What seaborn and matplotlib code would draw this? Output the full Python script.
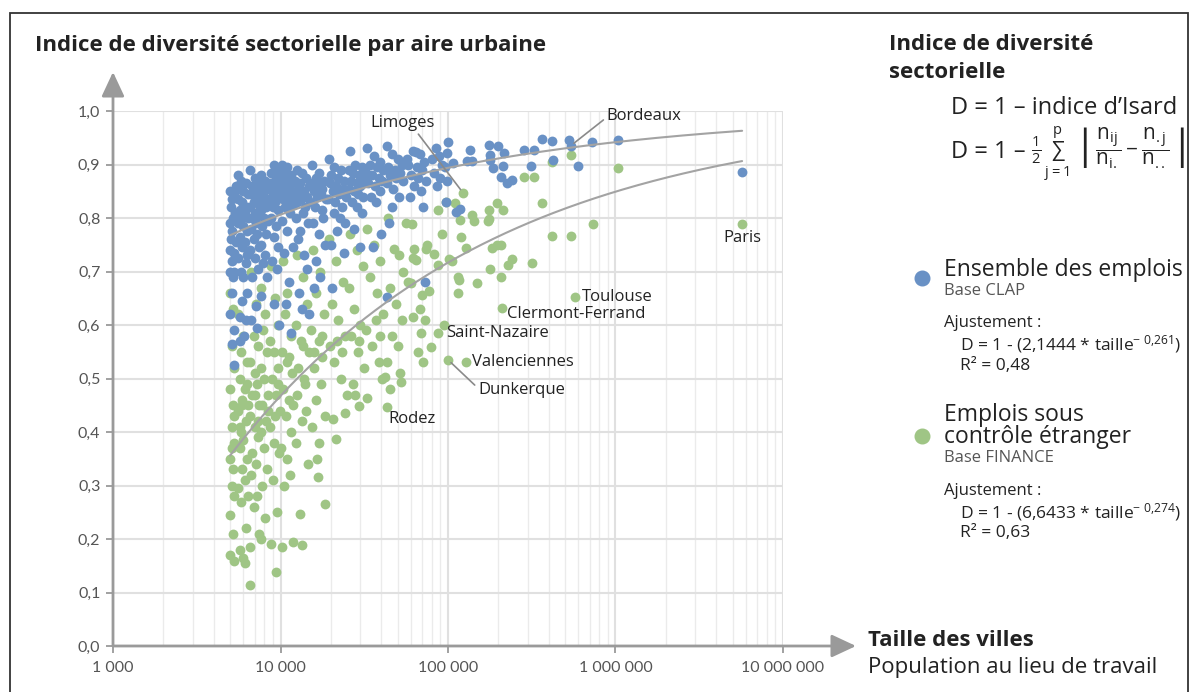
import numpy as np
import pandas as pd
import matplotlib
matplotlib.use("Agg")
import matplotlib.pyplot as plt
import seaborn as sns
from matplotlib.lines import Line2D
from matplotlib.patches import Rectangle
from matplotlib.ticker import FixedLocator, FuncFormatter, NullFormatter

# ---------------------------------------------------------------------------
# Data: (population au lieu de travail, indice de diversité D) par aire urbaine
# ---------------------------------------------------------------------------
ensemble_points = [
    (5000, 0.85), (5100, 0.835), (5050, 0.82), (5200, 0.80), (5000, 0.79), (5300, 0.845),
    (5150, 0.775), (5050, 0.76), (5250, 0.735), (5100, 0.72), (5000, 0.70), (5200, 0.69),
    (5100, 0.66), (5000, 0.62), (5250, 0.59), (5150, 0.565), (5300, 0.525), (5400, 0.86),
    (5350, 0.81), (5400, 0.755), (5300, 0.70), (5000, 0.74),
    (5600, 0.88), (5800, 0.87), (6200, 0.865), (5700, 0.855), (6000, 0.85), (6400, 0.845),
    (5600, 0.835), (5900, 0.83), (6300, 0.82), (5700, 0.815), (6100, 0.81), (5800, 0.80),
    (6400, 0.80), (5600, 0.79), (6000, 0.785), (6300, 0.775), (5700, 0.765), (6100, 0.755),
    (5900, 0.745), (6400, 0.735), (5600, 0.725), (6200, 0.715), (5800, 0.70), (6000, 0.69),
    (6300, 0.66), (5900, 0.645), (5700, 0.615), (6200, 0.61), (6050, 0.58), (5750, 0.57),
    (6350, 0.73), (5550, 0.86),
    (6600, 0.89), (7000, 0.875), (7300, 0.865), (6800, 0.86), (7200, 0.85), (6700, 0.845),
    (7100, 0.84), (6900, 0.83), (7400, 0.825), (6600, 0.82), (7000, 0.81), (7300, 0.805),
    (6800, 0.80), (7100, 0.79), (6700, 0.78), (7200, 0.77), (6900, 0.76), (7400, 0.745),
    (6600, 0.74), (7000, 0.725), (7300, 0.705), (6800, 0.69), (7100, 0.635), (6700, 0.61),
    (7200, 0.595), (6900, 0.855),
    (7700, 0.88), (8100, 0.87), (7900, 0.86), (8400, 0.855), (7600, 0.85), (8000, 0.84),
    (8300, 0.835), (7800, 0.83), (8200, 0.82), (7600, 0.815), (8000, 0.80), (8400, 0.795),
    (7800, 0.785), (8200, 0.77), (7700, 0.75), (8100, 0.73), (7900, 0.715), (8300, 0.69),
    (7600, 0.655), (8000, 0.87),
    (9200, 0.90), (9600, 0.89), (8800, 0.885), (9400, 0.875), (9900, 0.87), (8700, 0.865),
    (9100, 0.86), (9700, 0.855), (8900, 0.85), (9500, 0.845), (9800, 0.84), (8600, 0.835),
    (9300, 0.83), (9000, 0.82), (9600, 0.815), (8800, 0.80), (9400, 0.785), (9100, 0.765),
    (9700, 0.745), (8900, 0.72), (9500, 0.705), (9200, 0.64), (9800, 0.60), (9900, 0.885),
    (10200, 0.90), (11000, 0.895), (10600, 0.885), (11500, 0.88), (10300, 0.875), (10900, 0.87),
    (11700, 0.865), (10500, 0.86), (11200, 0.855), (10100, 0.85), (10800, 0.845), (11600, 0.84),
    (10400, 0.835), (11100, 0.83), (10700, 0.82), (11400, 0.81), (10200, 0.795), (11000, 0.775),
    (11800, 0.745), (10500, 0.735), (11300, 0.68), (10800, 0.64), (11600, 0.585), (11900, 0.825),
    (12500, 0.89), (13400, 0.885), (14200, 0.875), (12200, 0.87), (13000, 0.865), (14700, 0.86),
    (12800, 0.855), (13800, 0.85), (12400, 0.845), (14400, 0.84), (13200, 0.835), (12600, 0.83),
    (14000, 0.82), (13600, 0.81), (12300, 0.80), (14600, 0.79), (13100, 0.775), (12700, 0.76),
    (13900, 0.73), (14300, 0.705), (12900, 0.66), (13500, 0.63), (14800, 0.62),
    (15500, 0.90), (17000, 0.885), (16200, 0.875), (18300, 0.87), (15300, 0.865), (16800, 0.86),
    (17800, 0.855), (15800, 0.85), (17400, 0.845), (16500, 0.84), (18600, 0.835), (15100, 0.83),
    (16000, 0.82), (17600, 0.815), (18000, 0.80), (15600, 0.79), (16900, 0.77), (18400, 0.75),
    (16300, 0.72), (17200, 0.69), (15900, 0.67),
    (19500, 0.91), (21000, 0.895), (23000, 0.89), (20000, 0.88), (22000, 0.875), (24000, 0.87),
    (19800, 0.865), (21500, 0.86), (23500, 0.855), (20500, 0.85), (22500, 0.845), (24500, 0.84),
    (19300, 0.835), (21200, 0.83), (23200, 0.82), (20800, 0.81), (22800, 0.80), (24200, 0.79),
    (21800, 0.775), (19900, 0.75), (23800, 0.735), (20300, 0.67),
    (26000, 0.925), (28000, 0.90), (30500, 0.895), (25500, 0.89), (27000, 0.885), (29500, 0.88),
    (31500, 0.875), (26500, 0.87), (28500, 0.865), (30000, 0.86), (25800, 0.855), (27500, 0.85),
    (29000, 0.845), (31000, 0.84), (26800, 0.83), (28800, 0.82), (30800, 0.81), (27300, 0.78),
    (29800, 0.745),
    (33000, 0.93), (36000, 0.915), (39000, 0.905), (34000, 0.90), (37500, 0.895), (41000, 0.89),
    (32500, 0.885), (35000, 0.88), (38500, 0.875), (40500, 0.87), (33500, 0.865), (36500, 0.86),
    (39500, 0.85), (34500, 0.84), (37000, 0.83), (40000, 0.77), (35500, 0.745),
    (43000, 0.935), (46000, 0.92), (50000, 0.91), (53000, 0.90), (44000, 0.895), (48000, 0.89),
    (52000, 0.885), (45000, 0.88), (49000, 0.875), (54000, 0.87), (43500, 0.865), (47000, 0.855),
    (51000, 0.84), (46500, 0.82), (44500, 0.79), (43000, 0.652),
    (57000, 0.91), (62000, 0.925), (64000, 0.923), (68000, 0.92), (72000, 0.905), (58000, 0.90),
    (65000, 0.895), (70000, 0.89), (60000, 0.88), (66000, 0.875), (74000, 0.87), (63000, 0.86),
    (69000, 0.85), (59000, 0.84), (71000, 0.82), (73000, 0.68),
    (85000, 0.931), (88000, 0.916), (98000, 0.921), (80000, 0.91), (92000, 0.90), (96000, 0.895),
    (82000, 0.885), (90000, 0.875), (98000, 0.87), (86000, 0.86), (100000, 0.942), (97000, 0.83),
    (107000, 0.903), (112000, 0.811), (118000, 0.817), (135000, 0.927), (130000, 0.907),
    (140000, 0.907), (175000, 0.936), (177000, 0.918), (179000, 0.909), (185000, 0.893),
    (198000, 0.935), (206000, 0.877), (225000, 0.865), (240000, 0.871), (212000, 0.897),
    (215000, 0.921), (283000, 0.927), (325000, 0.927), (315000, 0.897), (363000, 0.948),
    (418000, 0.944), (425000, 0.908), (530000, 0.946), (540000, 0.935), (595000, 0.897),
    (720000, 0.942), (1030000, 0.946), (5700000, 0.886),
]

etranger_points = [
    (5000, 0.66), (5200, 0.63), (5100, 0.56), (5300, 0.52), (5000, 0.48), (5200, 0.45),
    (5100, 0.41), (5300, 0.38), (5000, 0.35), (5200, 0.33), (5100, 0.30), (5300, 0.28),
    (5000, 0.245), (5200, 0.21), (5000, 0.17), (5300, 0.159), (5250, 0.43), (5150, 0.37),
    (5600, 0.62), (6000, 0.58), (5800, 0.55), (6300, 0.53), (5700, 0.50), (6100, 0.48),
    (5900, 0.46), (6400, 0.45), (5600, 0.44), (6200, 0.42), (5800, 0.40), (6000, 0.385),
    (5700, 0.37), (6300, 0.35), (5900, 0.33), (6100, 0.31), (5600, 0.295), (6400, 0.28),
    (5800, 0.27), (6200, 0.22), (5700, 0.18), (6000, 0.165), (6600, 0.114), (6100, 0.155),
    (5900, 0.45), (6300, 0.49), (5700, 0.41),
    (6700, 0.70), (7100, 0.64), (6900, 0.58), (7300, 0.56), (6600, 0.53), (7000, 0.51),
    (7200, 0.49), (6800, 0.47), (7400, 0.45), (6600, 0.43), (7000, 0.41), (7300, 0.39),
    (6800, 0.36), (7100, 0.34), (6700, 0.32), (7200, 0.28), (6900, 0.26), (7400, 0.21),
    (6600, 0.185), (7000, 0.47), (7300, 0.42),
    (7700, 0.67), (8100, 0.62), (7900, 0.59), (8300, 0.55), (7600, 0.52), (8000, 0.50),
    (8400, 0.47), (7800, 0.45), (8200, 0.42), (7600, 0.40), (8000, 0.37), (8300, 0.33),
    (7800, 0.30), (8100, 0.24), (7700, 0.20), (8400, 0.44),
    (8800, 0.71), (9300, 0.65), (9700, 0.60), (8700, 0.57), (9100, 0.55), (9600, 0.52),
    (8900, 0.50), (9400, 0.47), (9900, 0.44), (8600, 0.41), (9200, 0.38), (9800, 0.36),
    (9000, 0.31), (9500, 0.25), (8800, 0.19), (9400, 0.138), (9300, 0.43), (9700, 0.49),
    (10300, 0.72), (11000, 0.66), (10600, 0.62), (11500, 0.58), (10200, 0.55), (10900, 0.53),
    (11700, 0.51), (10400, 0.48), (11200, 0.46), (10800, 0.43), (11600, 0.40), (10100, 0.37),
    (11000, 0.35), (11400, 0.32), (10500, 0.30), (10200, 0.185), (11800, 0.45), (11300, 0.54),
    (12500, 0.73), (13600, 0.69), (14400, 0.64), (12300, 0.60), (13200, 0.57), (14700, 0.55),
    (12800, 0.52), (13900, 0.50), (12600, 0.47), (14200, 0.44), (13400, 0.42), (12400, 0.38),
    (14600, 0.34), (13100, 0.247), (11900, 0.194), (13400, 0.189), (13700, 0.56), (14100, 0.49),
    (15600, 0.74), (17200, 0.70), (16400, 0.66), (18200, 0.62), (15300, 0.59), (16900, 0.57),
    (17800, 0.54), (15900, 0.52), (17400, 0.49), (16200, 0.46), (18500, 0.43), (15400, 0.41),
    (17000, 0.38), (16600, 0.35), (16700, 0.316), (15800, 0.55), (17600, 0.58),
    (19600, 0.76), (21500, 0.72), (23500, 0.68), (20200, 0.64), (22000, 0.61), (24200, 0.58),
    (19800, 0.56), (21000, 0.53), (23000, 0.50), (24800, 0.47), (20600, 0.424), (24300, 0.435),
    (21500, 0.387), (18500, 0.265), (21800, 0.57), (23300, 0.55),
    (26000, 0.77), (28500, 0.74), (31000, 0.71), (25500, 0.67), (27500, 0.63), (30000, 0.60),
    (26500, 0.58), (29000, 0.55), (31500, 0.52), (27000, 0.49), (29400, 0.449), (28000, 0.47),
    (29500, 0.57),
    (33000, 0.78), (36000, 0.75), (39000, 0.72), (34000, 0.69), (37500, 0.66), (41000, 0.62),
    (32500, 0.59), (35000, 0.56), (38500, 0.53), (40500, 0.50), (32800, 0.464), (37000, 0.61),
    (39500, 0.58),
    (44000, 0.80), (47500, 0.742), (51000, 0.73), (54000, 0.70), (45000, 0.67), (49000, 0.64),
    (53000, 0.61), (46000, 0.58), (50000, 0.56), (43500, 0.53), (51500, 0.51), (52500, 0.493),
    (45000, 0.48), (42000, 0.503), (43000, 0.447),
    (56000, 0.79), (61000, 0.789), (63000, 0.742), (62000, 0.725), (64000, 0.721),
    (60000, 0.679), (62000, 0.615), (70000, 0.656), (58000, 0.68), (66000, 0.55), (71000, 0.53),
    (68000, 0.63), (69000, 0.585), (73000, 0.61), (75000, 0.75), (74000, 0.742),
    (77000, 0.664), (82000, 0.733), (87000, 0.815), (97000, 0.83), (87000, 0.712),
    (79000, 0.559), (87000, 0.585), (100000, 0.535), (101000, 0.723), (92000, 0.77),
    (95000, 0.60),
    (106000, 0.72), (110000, 0.828), (123000, 0.847), (118000, 0.796), (120000, 0.765),
    (128000, 0.744), (115000, 0.69), (116000, 0.684), (115000, 0.66), (150000, 0.678),
    (128000, 0.531), (139000, 0.806), (143000, 0.794), (175000, 0.815), (176000, 0.798),
    (174000, 0.794), (183000, 0.744), (195000, 0.75), (206000, 0.75), (195000, 0.828),
    (213000, 0.815), (178000, 0.705), (206000, 0.69), (240000, 0.723), (228000, 0.712),
    (316000, 0.716), (210000, 0.632), (364000, 0.828), (283000, 0.877), (325000, 0.877),
    (420000, 0.905), (540000, 0.918), (1030000, 0.894), (420000, 0.766), (545000, 0.766),
    (730000, 0.789), (575000, 0.652), (5700000, 0.789),
]

# Labelled cities: name, population, D
city_names = ["Paris", "Toulouse", "Clermont-Ferrand", "Saint-Nazaire",
              "Valenciennes", "Rodez", "Dunkerque", "Limoges", "Bordeaux"]
city_pop = [5700000, 575000, 210000, 87000, 128000, 43000, 100000, 123000, 540000]
city_d = [0.789, 0.652, 0.632, 0.585, 0.531, 0.447, 0.535, 0.847, 0.935]

# Power-law fits  D = 1 - a * taille^(-b)
fit_ensemble = (2.1444, 0.261)
fit_etranger = (6.6433, 0.274)

y_ticks = [0.0, 0.1, 0.2, 0.3, 0.4, 0.5, 0.6, 0.7, 0.8, 0.9, 1.0]
x_ticks = [1e3, 1e4, 1e5, 1e6, 1e7]
x_tick_labels = ["1 000", "10 000", "100 000", "1 000 000", "10 000 000"]

BLUE = "#6991c5"
GREEN = "#9fc585"
CURVE = "#a3a3a3"
TXT = "#222222"

# ---------------------------------------------------------------------------
sns.set_style("white")
plt.rcParams["font.family"] = ["Open Sans", "DejaVu Sans"]
plt.rcParams["mathtext.fontset"] = "custom"
plt.rcParams["mathtext.rm"] = "Open Sans"
plt.rcParams["mathtext.it"] = "Open Sans:italic"
plt.rcParams["mathtext.bf"] = "Open Sans:bold"
plt.rcParams["mathtext.sf"] = "Open Sans"

W, H = 1198, 692
fig = plt.figure(figsize=(W / 100, H / 100), dpi=100)
fig.patch.set_facecolor("white")


def fx(px):
    return px / W


def fy(py):
    return 1 - py / H


ax_left, ax_right, ax_top, ax_bottom = 113, 783, 111, 646
ax = fig.add_axes([fx(ax_left), fy(ax_bottom), (ax_right - ax_left) / W,
                   (ax_bottom - ax_top) / H])

df_e = pd.DataFrame(ensemble_points, columns=["taille", "D"])
df_g = pd.DataFrame(etranger_points, columns=["taille", "D"])

sns.scatterplot(data=df_g, x="taille", y="D", color=GREEN, s=50, linewidth=0,
                ax=ax, zorder=3, legend=False)
sns.scatterplot(data=df_e, x="taille", y="D", color=BLUE, s=50, linewidth=0,
                ax=ax, zorder=4, legend=False)

ax.set_xscale("log")
ax.set_xlim(1e3, 1e7)
ax.set_ylim(0, 1.0)

# fitted curves
xs = np.logspace(np.log10(5000), np.log10(5.7e6), 300)
for a, b in (fit_ensemble, fit_etranger):
    ax.plot(xs, 1 - a * xs ** (-b), color=CURVE, lw=1.5, zorder=5)

# grid
minor = [m * 10 ** e for e in range(3, 7) for m in range(2, 10)]
ax.xaxis.set_major_locator(FixedLocator(x_ticks))
ax.xaxis.set_minor_locator(FixedLocator(minor))
ax.xaxis.set_minor_formatter(NullFormatter())
ax.xaxis.set_major_formatter(FuncFormatter(lambda v, p: x_tick_labels[x_ticks.index(v)]
                                           if v in x_ticks else ""))
ax.yaxis.set_major_locator(FixedLocator(y_ticks))
ax.yaxis.set_major_formatter(FuncFormatter(lambda v, p: f"{v:.1f}".replace(".", ",")))
ax.grid(which="major", axis="both", color="#e0e0e0", lw=1.5, zorder=0)
ax.grid(which="minor", axis="x", color="#ebebeb", lw=1.0, zorder=0)
ax.set_axisbelow(True)

for s in ax.spines.values():
    s.set_visible(False)
ax.tick_params(axis="both", which="major", length=5, width=1.3, color="#9a9a9a",
               labelsize=11.5, labelcolor="#555555", pad=4, direction="out",
               labelfontfamily="Lato")
ax.tick_params(axis="x", which="major", bottom=True, pad=6)
ax.tick_params(axis="y", which="major", left=True)
ax.tick_params(axis="x", which="minor", length=0)
ax.set_xlabel("")
ax.set_ylabel("")

# axis arrows
arrow_kw = dict(arrowstyle="-|>,head_length=0.75,head_width=0.35", color="#9a9a9a",
                lw=2, shrinkA=0, shrinkB=0, mutation_scale=20)
ax.annotate("", xy=(0, (ax_bottom - 72) / (ax_bottom - ax_top)), xytext=(0, 0),
            xycoords="axes fraction", arrowprops=arrow_kw, annotation_clip=False)
ax.annotate("", xy=((856 - ax_left) / (ax_right - ax_left), 0), xytext=(0, 0),
            xycoords="axes fraction", arrowprops=arrow_kw, annotation_clip=False)

# city labels
lab_kw = dict(fontsize=12, color=TXT, textcoords="offset pixels", zorder=6)
lead = dict(arrowstyle="-", color="#8a8a8a", lw=1.2, shrinkA=0, shrinkB=3)
offsets = {
    "Paris": ((0, -6), "center", "top", None),
    "Toulouse": ((7, 0), "left", "center", None),
    "Clermont-Ferrand": ((5, -6), "left", "center", None),
    "Saint-Nazaire": ((8, 0), "left", "center", None),
    "Valenciennes": ((6, 0), "left", "center", None),
    "Rodez": ((2, -12), "left", "center", None),
    "Dunkerque": ((30, -30), "left", "center", (0, 0.6)),
    "Limoges": ((-60, 70), "center", "center", (0.68, 0.1)),
    "Bordeaux": ((36, 30), "left", "center", (0, 0.4)),
}
for name, px, dv in zip(city_names, city_pop, city_d):
    off, ha, va, rel = offsets[name]
    kw = dict(lab_kw)
    if rel is not None:
        ap = dict(lead)
        ap["relpos"] = rel
        kw["arrowprops"] = ap
    ax.annotate(name, xy=(px, dv), xytext=off, ha=ha, va=va, **kw)

# titles
fig.text(fx(35), fy(45), "Indice de diversité sectorielle par aire urbaine",
         fontsize=16, fontweight="bold", color=TXT, va="center", ha="left")
fig.text(fx(889), fy(45), "Indice de diversité", fontsize=16, fontweight="bold",
         color=TXT, va="center", ha="left")
fig.text(fx(889), fy(73), "sectorielle", fontsize=16, fontweight="bold",
         color=TXT, va="center", ha="left")
fig.text(fx(951), fy(108), "D = 1 – indice d’Isard", fontsize=17, color=TXT,
         va="center", ha="left")
fig.text(fx(951), fy(152), "D = 1 –", fontsize=17, color=TXT, va="center", ha="left")
fig.text(fx(1031), fy(154),
         r"$\frac{1}{2}\,\sum_{\mathrm{j=1}}^{\mathrm{p}}\,"
         r"\left|\dfrac{\mathrm{n}_{\mathrm{ij}}}{\mathrm{n}_{\mathrm{i.}}}-"
         r"\dfrac{\mathrm{n}_{\mathrm{.j}}}{\mathrm{n}_{\mathrm{..}}}\right|$",
         fontsize=15, color=TXT, va="center", ha="left")

# legend block
fig.add_artist(Line2D([fx(922)], [fy(278)], marker="o", ms=10.5, color=BLUE, lw=0,
                      transform=fig.transFigure))
fig.text(fx(944), fy(270), "Ensemble des emplois", fontsize=16.5, color=TXT, va="center")
fig.text(fx(944), fy(291), "Base CLAP", fontsize=12, color="#555555", va="center")
fig.text(fx(944), fy(323), "Ajustement :", fontsize=12, color=TXT, va="center")
fig.text(fx(960), fy(344), r"D = 1 - (2,1444 * taille$^{-\ 0{,}261}$)", fontsize=12.5,
         color=TXT, va="center")
fig.text(fx(960), fy(366), "R² = 0,48", fontsize=12.5, color=TXT, va="center")

fig.add_artist(Line2D([fx(922)], [fy(436)], marker="o", ms=10.5, color=GREEN, lw=0,
                      transform=fig.transFigure))
fig.text(fx(944), fy(415), "Emplois sous", fontsize=16.5, color=TXT, va="center")
fig.text(fx(944), fy(437), "contrôle étranger", fontsize=16.5, color=TXT, va="center")
fig.text(fx(944), fy(458), "Base FINANCE", fontsize=12, color="#555555", va="center")
fig.text(fx(944), fy(491), "Ajustement :", fontsize=12, color=TXT, va="center")
fig.text(fx(960), fy(512), r"D = 1 - (6,6433 * taille$^{-\ 0{,}274}$)", fontsize=12.5,
         color=TXT, va="center")
fig.text(fx(960), fy(533), "R² = 0,63", fontsize=12.5, color=TXT, va="center")

# axis captions
fig.text(fx(868), fy(640), "Taille des villes", fontsize=16, fontweight="bold",
         color=TXT, va="center")
fig.text(fx(868), fy(668), "Population au lieu de travail", fontsize=16,
         color=TXT, va="center")

# outer frame
fig.add_artist(Rectangle((fx(10), -0.05), fx(1188) - fx(10), fy(13) + 0.05,
                         transform=fig.transFigure, fill=False, ec="#333333", lw=1.3))

fig.savefig("out.png", dpi=100, facecolor="white")
